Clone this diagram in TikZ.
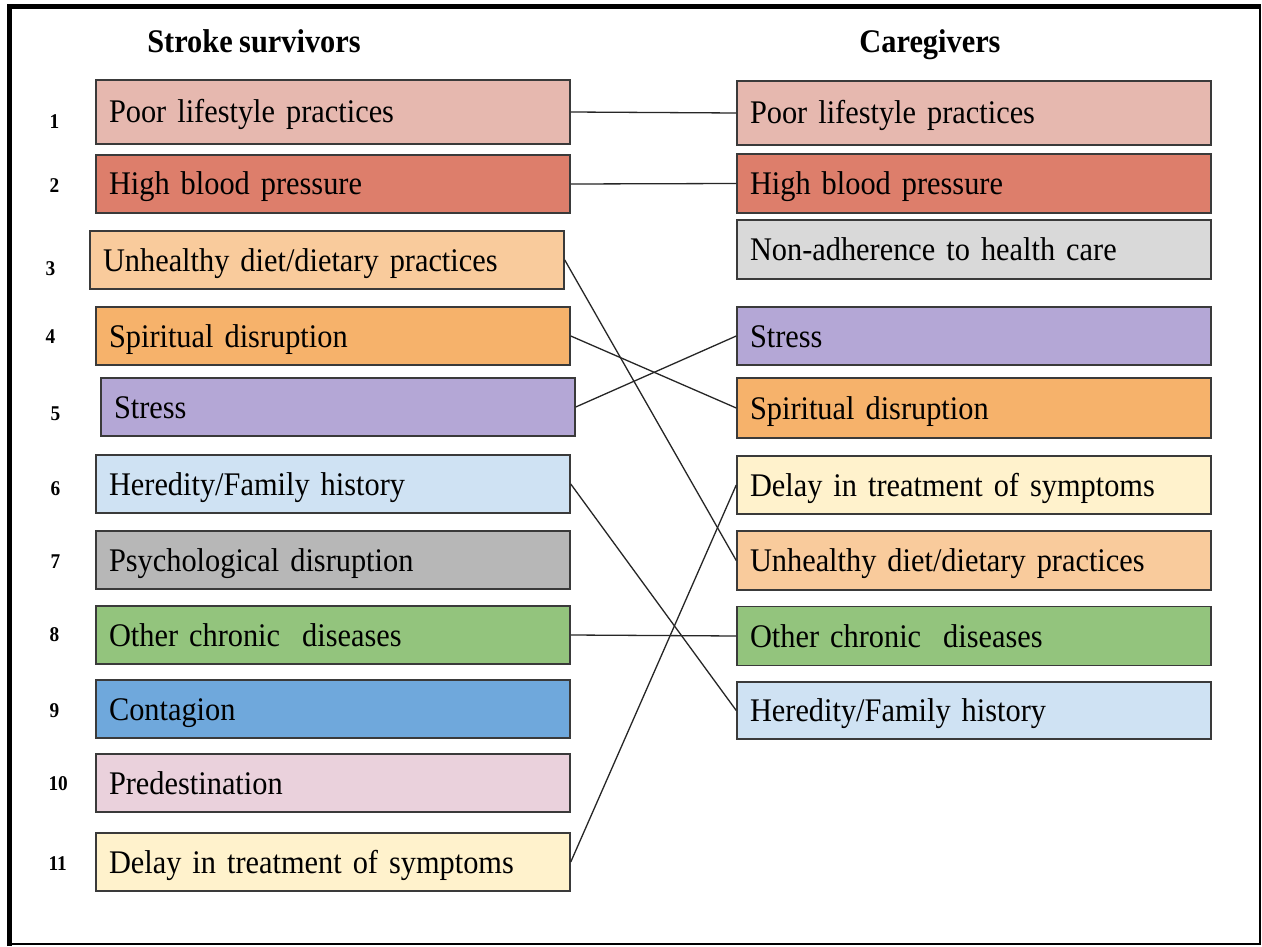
\documentclass[tikz,border=0pt]{standalone}
\usepackage{fontspec}
\setmainfont{Liberation Serif}[FakeStretch=0.92, WordSpace=0.85]
\definecolor{cPoor}{HTML}{E6B8AF}
\definecolor{cHigh}{HTML}{DD7E6B}
\definecolor{cDiet}{HTML}{F9CB9C}
\definecolor{cSpirit}{HTML}{F6B26B}
\definecolor{cStress}{HTML}{B4A7D6}
\definecolor{cHered}{HTML}{CFE2F3}
\definecolor{cPsych}{HTML}{B7B7B7}
\definecolor{cChronic}{HTML}{93C47D}
\definecolor{cContag}{HTML}{6FA8DC}
\definecolor{cPredest}{HTML}{EAD1DC}
\definecolor{cDelay}{HTML}{FFF2CC}
\definecolor{cNonAdh}{HTML}{D9D9D9}
\definecolor{boxline}{HTML}{3A3A3A}
\begin{document}
\begin{tikzpicture}[x=1pt,y=-1pt,
  cause/.style={draw=boxline, line width=1.5pt, rectangle, inner xsep=13pt, inner ysep=0pt,
    text width=448pt, align=left, text height=22pt, text depth=0pt,
    font=\fontsize{33}{38}\selectfont},
  head/.style={anchor=base, font=\fontsize{33}{38}\selectfont\bfseries},
  num/.style={anchor=base west, font=\fontsize{21}{25}\selectfont\bfseries},
  link/.style={draw=black!85, line width=1.3pt}]
\useasboundingbox (0,0) rectangle (1262,947);
\fill[white] (0,0) rectangle (1262,947);
% outer frame: heavy top and left edges, light right and bottom edges
\draw[line width=1.8pt] (1260,6) -- (1260,944) -- (9.5,944);
\draw[line width=5pt] (9.5,946) -- (9.5,6.5) -- (1261,6.5);

% column headings
\node[head] (hs) at (254,53) {Stroke survivors};
\node[head] (hc) at (930,53) {Caregivers};

% stroke survivors
\node[cause, fill=cPoor,    minimum height=64pt] (l1)  at (333,112) {Poor lifestyle practices};
\node[cause, fill=cHigh,    minimum height=58pt] (l2)  at (333,184) {High blood pressure};
\node[cause, fill=cDiet,    minimum height=58pt] (l3)  at (327,260) {Unhealthy diet/dietary practices};
\node[cause, fill=cSpirit,  minimum height=58pt] (l4)  at (333,336) {Spiritual disruption};
\node[cause, fill=cStress,  minimum height=58pt] (l5)  at (338,407) {Stress};
\node[cause, fill=cHered,   minimum height=58pt] (l6)  at (333,484) {Heredity/Family history};
\node[cause, fill=cPsych,   minimum height=58pt] (l7)  at (333,560) {Psychological disruption};
\node[cause, fill=cChronic, minimum height=58pt] (l8)  at (333,635) {Other chronic~ diseases};
\node[cause, fill=cContag,  minimum height=58pt] (l9)  at (333,709) {Contagion};
\node[cause, fill=cPredest, minimum height=58pt] (l10) at (333,783) {Predestination};
\node[cause, fill=cDelay,   minimum height=58pt] (l11) at (333,862) {Delay in treatment of symptoms};

% row numbers
\node[num] (n1)  at (46,129) {1};
\node[num] (n2)  at (46,193) {2};
\node[num] (n3)  at (42,275) {3};
\node[num] (n4)  at (42,343) {4};
\node[num] (n5)  at (47,420) {5};
\node[num] (n6)  at (47,495) {6};
\node[num] (n7)  at (47,568) {7};
\node[num] (n8)  at (46,641) {8};
\node[num] (n9)  at (46,717) {9};
\node[num] (n10) at (45,790) {10};
\node[num] (n11) at (45,870) {11};

% caregivers
\node[cause, fill=cPoor,    minimum height=64pt] (r1) at (974,113)   {Poor lifestyle practices};
\node[cause, fill=cHigh,    minimum height=59pt] (r2) at (974,183.5) {High blood pressure};
\node[cause, fill=cNonAdh,  minimum height=59pt] (r3) at (974,249.5) {Non-adherence to health care};
\node[cause, fill=cStress,  minimum height=58pt] (r4) at (974,336)   {Stress};
\node[cause, fill=cSpirit,  minimum height=60pt] (r5) at (974,408)   {Spiritual disruption};
\node[cause, fill=cDelay,   minimum height=58pt] (r6) at (974,485)   {Delay in treatment of symptoms};
\node[cause, fill=cDiet,    minimum height=59pt] (r7) at (974,560.5) {Unhealthy diet/dietary practices};
\node[cause, fill=cChronic, minimum height=59pt] (r8) at (974,636)   {Other chronic~ diseases};
\node[cause, fill=cHered,   minimum height=57pt] (r9) at (974,710.5) {Heredity/Family history};

% shared causes
\draw[link] (l1.east)  -- (r1.west);
\draw[link] (l2.east)  -- (r2.west);
\draw[link] (l3.east)  -- (r7.west);
\draw[link] (l4.east)  -- (r5.west);
\draw[link] (l5.east)  -- (r4.west);
\draw[link] (l6.east)  -- (r9.west);
\draw[link] (l8.east)  -- (r8.west);
\draw[link] (l11.east) -- (r6.west);
\end{tikzpicture}
\end{document}
